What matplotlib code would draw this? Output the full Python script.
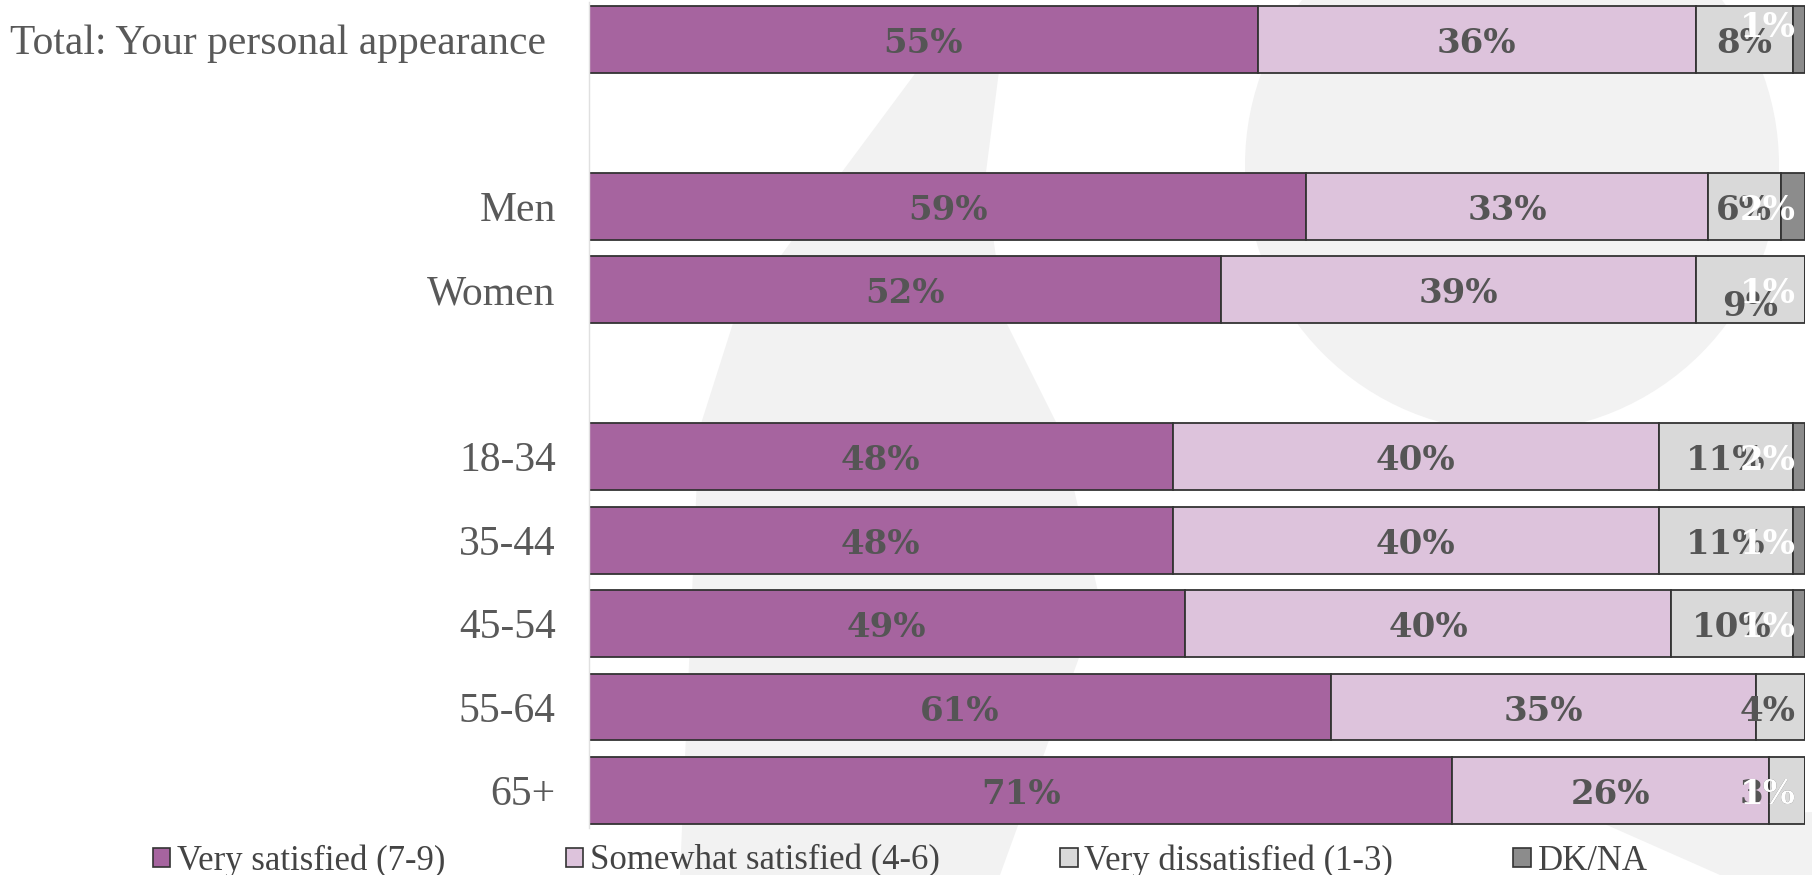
import matplotlib
matplotlib.use('Agg')
import matplotlib.pyplot as plt
from matplotlib.patches import Polygon, Circle, Rectangle
from matplotlib.transforms import ScaledTranslation
import numpy as np

# ---------------- data ----------------
categories = ["Total: Your personal appearance", "Men", "Women",
              "18-34", "35-44", "45-54", "55-64", "65+"]
series_names = ["Very satisfied (7-9)", "Somewhat satisfied (4-6)",
                "Very dissatisfied (1-3)", "DK/NA"]
very_satisfied = [55, 59, 52, 48, 48, 49, 61, 71]
somewhat_satisfied = [36, 33, 39, 40, 40, 40, 35, 26]
very_dissatisfied = [8, 6, 9, 11, 11, 10, 4, 3]
dk_na = [1, 2, 1, 2, 1, 1, 0, 1]

# ---------------- style / layout ----------------
colors = ['#A6649F', '#DDC3DC', '#D9D9D9', '#8C8C8C']
label_colors = ['#555555', '#555555', '#555555', '#FFFFFF']
row_pos = [0, 2, 3, 5, 6, 7, 8, 9]          # blank rows at 1 and 4
label_nudge_px = {(0, 3): -16, (2, 2): 13}  # (row, series): vertical px shift
base_nudge_px = 4

W, H = 1812, 875
fig = plt.figure(figsize=(W / 100, H / 100), dpi=100)
fig.patch.set_facecolor('white')

# faint watermark in background
bg = fig.add_axes([0, 0, 1, 1], zorder=0)
bg.set_xlim(0, W)
bg.set_ylim(H, 0)
bg.axis('off')
wm = '#F2F2F2'
bg.add_patch(Circle((1512, 165), 267, color=wm, lw=0))
bg.add_patch(Polygon([(940, 40), (1003, 40), (985, 180), (1005, 320), (1060, 430),
                      (1100, 600), (1000, 875), (680, 875), (699, 430),
                      (734, 320), (836, 180)], closed=True, color=wm, lw=0))
bg.add_patch(Polygon([(1600, 822), (1812, 812), (1812, 875), (1720, 875)],
                     closed=True, color=wm, lw=0))

ax = fig.add_axes([589 / W, 1 - 828 / H, (1805 - 589) / W, (828 - 2) / H], zorder=1)
ax.set_facecolor('none')

series = [very_satisfied, somewhat_satisfied, very_dissatisfied, dk_na]
left = np.zeros(len(categories))
texts = []
for si, vals in enumerate(series):
    vals = np.array(vals, dtype=float)
    right = np.minimum(left + vals, 100)
    widths = right - left
    ax.barh(row_pos, widths, left=left, height=0.8, color=colors[si],
            edgecolor='#333333', linewidth=1.3, zorder=2)
    for ri, v in enumerate(vals):
        if v <= 0:
            continue
        cx = (left[ri] + right[ri]) / 2
        t = ax.text(cx, row_pos[ri], f"{int(v)}%", ha='center', va='center',
                    fontsize=24.5, fontweight='bold', family='DejaVu Serif',
                    color=label_colors[si], zorder=5)
        dy = label_nudge_px.get((ri, si), 0) + base_nudge_px
        texts.append((t, dy))
    left = np.minimum(left + vals, 100)

ax.set_xlim(0, 100)
ax.set_ylim(9.45, -0.45)
ax.set_yticks(row_pos)
ax.set_yticklabels(categories, family='Liberation Serif', fontsize=29.9, color='#595959')
ax.tick_params(axis='y', length=0, pad=24)
ax.set_xticks([])
for s in ['top', 'right', 'bottom']:
    ax.spines[s].set_visible(False)
ax.spines['left'].set_color('#E0E0E0')
ax.spines['left'].set_linewidth(1.0)

# first category label sits a little further left in the original
first = ax.get_yticklabels()[0]
first.set_transform(first.get_transform() + ScaledTranslation(-10 / 100, 0, fig.dpi_scale_trans))

# keep labels inside the plot area (shift left if they overflow)
fig.canvas.draw()
renderer = fig.canvas.get_renderer()
ax_bb = ax.get_window_extent(renderer)
limit = 1796
for t, dy in texts:
    bb = t.get_window_extent(renderer)
    x, y = t.get_position()
    if bb.x1 > limit:
        x -= (bb.x1 - limit) / ax_bb.width * 100
    if dy:
        y += dy / ax_bb.height * 9.9
    t.set_position((x, y))

# legend
handles = [Rectangle((0, 0), 1, 1, facecolor=c, edgecolor='#333333', lw=1.2) for c in colors]
leg = fig.legend(handles, series_names, loc='center left',
                 bbox_to_anchor=(153 / W, 1 - 861 / H), ncol=4, frameon=False,
                 prop={'family': 'Liberation Serif', 'size': 25},
                 handlelength=0.5, handleheight=0.5, handletextpad=0.2,
                 columnspacing=3.46, borderaxespad=0, borderpad=0)
for txt in leg.get_texts():
    txt.set_color('#444444')

fig.savefig('out.png', dpi=100)
